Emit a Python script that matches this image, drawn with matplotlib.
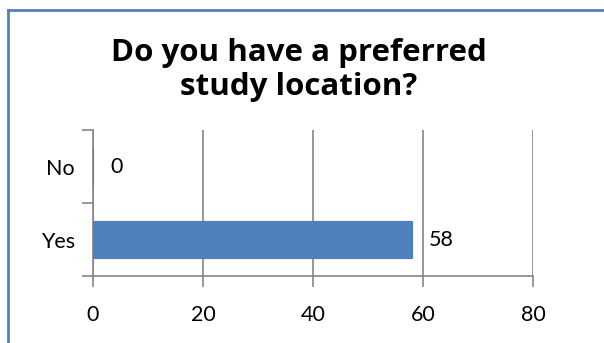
import matplotlib.pyplot as plt
from matplotlib.lines import Line2D

categories = ["Yes", "No"]
counts = [58, 0]
x_ticks = [0, 20, 40, 60, 80]
title = "Do you have a preferred\nstudy location?"

plt.rcParams["font.family"] = ["Lato", "DejaVu Sans"]

fig = plt.figure(figsize=(6.04, 3.43), dpi=100)
ax = fig.add_axes([0.154, 0.195, 0.7285, 0.426])

grey = "#868686"
ypos = list(range(len(categories)))
ax.barh(ypos, counts, height=0.5, color="#4F81BD", edgecolor="#4A7EBB", linewidth=0.8, zorder=3)

for y, v in zip(ypos, counts):
    ax.text(v + 3.1, y, str(v), va="center", ha="left", fontsize=15.5)

ax.set_xlim(0, 80)
ax.set_ylim(-0.5, 1.5)
ax.set_xticks(x_ticks)
ax.set_xticklabels([str(t) for t in x_ticks], fontsize=15.5)
ax.set_yticks(ypos)
ax.set_yticklabels(categories, fontsize=15.5)
ax.set_yticks([-0.5, 0.5, 1.5], minor=True)
ax.tick_params(axis="y", which="major", length=0, pad=13)
ax.tick_params(axis="y", which="minor", length=8, color=grey, width=1.2)
ax.tick_params(axis="x", length=8, color=grey, width=1.2, pad=13)

ax.grid(axis="x", color=grey, linewidth=1.2, zorder=0)
for s in ["top", "right"]:
    ax.spines[s].set_visible(False)
for s in ["left", "bottom"]:
    ax.spines[s].set_color(grey)
    ax.spines[s].set_linewidth(1.2)

fig.text(0.495, 0.797, title, ha="center", va="center", fontsize=22.5, fontweight="bold",
         family=["Open Sans", "DejaVu Sans"], linespacing=1.18)

# chart frame (cut off at right and bottom)
fig.add_artist(Line2D([8 / 604, 1], [1 - 9.5 / 343] * 2, color="#4F81BD", linewidth=2))
fig.add_artist(Line2D([8 / 604] * 2, [0, 1 - 9.5 / 343], color="#4F81BD", linewidth=2))

fig.savefig("out.png", dpi=100)
